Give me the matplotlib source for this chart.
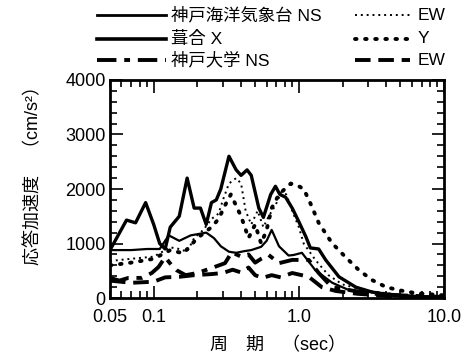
import numpy as np
import matplotlib
matplotlib.use("Agg")
import matplotlib.pyplot as plt
from matplotlib.lines import Line2D
from matplotlib.ticker import FixedLocator, NullFormatter

plt.rcParams['font.family'] = ['Liberation Sans', 'Noto Sans CJK JP']

# 周期 (sec) と応答加速度 (cm/s2)
jma_ns_T = [0.05, 0.065, 0.075, 0.088, 0.1, 0.11, 0.12, 0.13, 0.15, 0.17, 0.19, 0.21,
            0.23, 0.25, 0.27, 0.29, 0.33, 0.37, 0.40, 0.44, 0.47, 0.53, 0.57, 0.64,
            0.69, 0.74, 0.81, 0.9, 1.0, 1.12, 1.2, 1.37, 1.53, 1.89, 2.47, 3.2, 4.4,
            6.4, 10.0]
jma_ns_a = [880, 1430, 1380, 1750, 1350, 1000, 900, 1300, 1500, 2200, 1650, 1650,
            1350, 1750, 1800, 2000, 2600, 2350, 2250, 2350, 2250, 1650, 1480, 1900,
            2050, 1900, 1850, 1650, 1400, 1120, 920, 900, 700, 390, 200, 110, 55,
            20, 5]

fukiai_x_T = [0.05, 0.07, 0.09, 0.11, 0.127, 0.15, 0.18, 0.23, 0.26, 0.29, 0.33,
              0.37, 0.42, 0.47, 0.55, 0.6, 0.65, 0.73, 0.85, 0.92, 1.05, 1.3, 1.7,
              2.2, 3.7, 6.0, 10.0]
fukiai_x_a = [880, 880, 900, 900, 1150, 1050, 1150, 1200, 1100, 950, 850,
              830, 860, 880, 940, 1050, 1250, 950, 780, 790, 830, 510, 280,
              150, 90, 40, 10]

jma_ew_T = [0.05, 0.07, 0.1, 0.13, 0.15, 0.17, 0.19, 0.22, 0.25, 0.28, 0.3, 0.33,
            0.37, 0.4, 0.43, 0.47, 0.52, 0.57, 0.62, 0.69, 0.76, 0.82, 0.9, 1.0,
            1.08, 1.3, 1.6, 2.0, 3.0, 5.0, 10.0]
jma_ew_a = [680, 720, 760, 930, 900, 850, 1100, 1250, 1450, 1550, 1800, 2100,
            2200, 2100, 1600, 1350, 1600, 1300, 1500, 1700, 1950, 1900, 1600, 1300,
            1000, 700, 420, 250, 130, 60, 20]

fukiai_y_T = [0.05, 0.07, 0.1, 0.13, 0.16, 0.2, 0.25, 0.28, 0.31, 0.34, 0.4, 0.45,
              0.5, 0.55, 0.6, 0.65, 0.73, 0.8, 0.88, 1.0, 1.08, 1.2, 1.37, 1.69,
              2.1, 2.6, 3.2, 4.0, 5.0, 6.4, 10.0]
fukiai_y_a = [600, 650, 720, 880, 820, 1100, 1300, 1450, 1700, 1900, 1500, 1100,
              1350, 1000, 1250, 1650, 1900, 2000, 2100, 2050, 2000, 1740, 1380, 1010,
              750, 510, 330, 200, 140, 90, 50]

kobeu_ns_T = [0.05, 0.058, 0.067, 0.083, 0.097, 0.108, 0.12, 0.133, 0.144, 0.166,
              0.2, 0.25, 0.31, 0.345, 0.4, 0.45, 0.5, 0.55, 0.62, 0.73, 0.9, 1.17,
              1.37, 1.69, 2.2, 2.9, 5.0, 10.0]
kobeu_ns_a = [370, 320, 370, 370, 460, 570, 750, 600, 510, 420,
              460, 550, 640, 840, 760, 800, 650, 720, 790, 640, 700, 700,
              460, 200, 150, 90, 50, 20]

kobeu_ew_T = [0.05, 0.07, 0.1, 0.12, 0.15, 0.19, 0.25, 0.3, 0.35, 0.4, 0.45, 0.5,
              0.56, 0.65, 0.75, 0.9, 1.17, 1.44, 1.8, 2.5, 4.0, 10.0]
kobeu_ew_a = [320, 280, 300, 380, 390, 420, 440, 460, 520, 470, 560, 420,
              370, 420, 380, 460, 390, 200, 130, 80, 40, 10]

fine_dot = (0, (1, 2))
big_dot = (0, (0.4, 2.2))
dash_dot = (0, (5, 2, 1.5, 2))
dash = (0, (4, 2))

fig = plt.figure(figsize=(4.61, 3.6), dpi=100)
ax = fig.add_axes([0.2386, 0.172, 0.7245, 0.606])

ax.plot(jma_ns_T, jma_ns_a, color='black', lw=2.4, solid_joinstyle='round')
ax.plot(fukiai_x_T, fukiai_x_a, color='black', lw=1.6)
ax.plot(jma_ew_T, jma_ew_a, color='black', lw=1.4, ls=fine_dot)
ax.plot(fukiai_y_T, fukiai_y_a, color='black', lw=2.8, ls=big_dot,
        dash_capstyle='round')
ax.plot(kobeu_ns_T, kobeu_ns_a, color='black', lw=2.8, ls=dash_dot)
ax.plot(kobeu_ew_T, kobeu_ew_a, color='black', lw=2.8, ls=dash)

ax.set_xscale('log')
ax.set_xlim(0.05, 10.0)
ax.set_ylim(0, 4000)

major_x = [0.1, 1.0, 10.0]
minor_x = [0.05, 0.06, 0.07, 0.08, 0.09] + [k / 10 for k in range(2, 10)] + list(range(2, 10))
ax.xaxis.set_major_locator(FixedLocator(major_x))
ax.xaxis.set_minor_locator(FixedLocator(minor_x))
ax.xaxis.set_major_formatter(NullFormatter())
ax.xaxis.set_minor_formatter(NullFormatter())
ax.yaxis.set_major_locator(FixedLocator([0, 1000, 2000, 3000, 4000]))
ax.yaxis.set_minor_locator(FixedLocator(np.arange(0, 4001, 200)))
ax.set_yticklabels(['0', '1000', '2000', '3000', '4000'], fontsize=13)

ax.tick_params(which='both', direction='in', top=True, right=True, width=1.2)
ax.tick_params(which='major', length=9)
ax.tick_params(which='minor', length=5)
ax.tick_params(axis='y', pad=3)
for s in ax.spines.values():
    s.set_linewidth(2.0)

# x 目盛りラベル
x_labels = ['0.05', '0.1', '1.0', '10.0']
x_pos = [0.05, 0.1, 1.0, 10.0]
for xp, xl in zip(x_pos, x_labels):
    ax.text(xp, -0.05, xl, transform=ax.get_xaxis_transform(), ha='center',
            va='top', fontsize=13)

fig.text(0.603, 0.04, '周　期　（sec）', ha='center', va='center', fontsize=13)
fig.text(0.072, 0.525, '応答加速度　（cm/s²）', ha='center', va='center',
         rotation=90, fontsize=13)

# 凡例
rows = [
    (0.958, dict(lw=2.0), '神戸海洋気象台 NS', dict(lw=1.4, ls=fine_dot), 'EW'),
    (0.893, dict(lw=2.6), '葺合 X', dict(lw=2.8, ls=big_dot, dash_capstyle='round'), 'Y'),
    (0.832, dict(lw=2.8, ls=dash_dot), '神戸大学 NS', dict(lw=2.8, ls=dash), 'EW'),
]
for yy, st1, lab1, st2, lab2 in rows:
    fig.add_artist(Line2D([0.21, 0.36], [yy, yy], color='black', **st1))
    fig.text(0.372, yy, lab1, ha='left', va='center', fontsize=12.5)
    fig.add_artist(Line2D([0.77, 0.89], [yy, yy], color='black', **st2))
    fig.text(0.905, yy, lab2, ha='left', va='center', fontsize=12.5)

fig.savefig('out.png', dpi=100)
